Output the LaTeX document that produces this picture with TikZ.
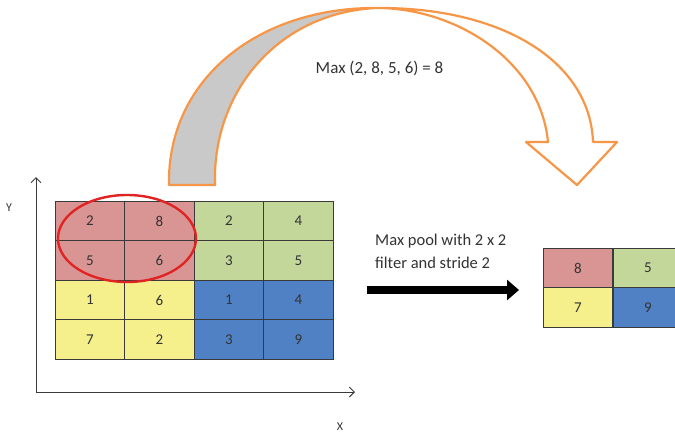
\documentclass[tikz,border=0pt]{standalone}
\usepackage{fontspec}
\setmainfont{Carlito}
\usetikzlibrary{arrows.meta,shapes.geometric}
\definecolor{cred}{HTML}{D99594}
\definecolor{cgreen}{HTML}{C4D79B}
\definecolor{cyellow}{HTML}{F5EF8C}
\definecolor{cblue}{HTML}{4F81C4}
\definecolor{gridc}{HTML}{3A3A3A}
\definecolor{txt}{HTML}{333333}
\definecolor{orng}{HTML}{F79646}
\definecolor{bandgray}{HTML}{C9C9C9}
\definecolor{ringred}{HTML}{E02424}
\begin{document}
\begin{tikzpicture}[x=1pt,y=-1pt,
  cell/.style={draw=gridc,line width=1.3pt,minimum width=69.5pt,minimum height=39.5pt,
    inner sep=0pt,text=txt,font=\fontsize{15}{17}\selectfont},
  axis/.style={draw=gridc,line width=1pt,-{Straight Barb[length=5pt,width=10pt]}},
  lbl/.style={text=txt,inner sep=0pt},
  band/.style={draw=orng,line width=2.2pt,line join=round}]
\useasboundingbox (0,0) rectangle (675,434);
% curved arrow: back (white) part
\draw[band,fill=white] (377,8) .. controls (500,7) and (590,60) .. (593,142)
  -- (617,142) -- (577,185) -- (526,142) -- (548,142)
  .. controls (540,60) and (455,8) .. (377,8) -- cycle;
% front (gray) part
\draw[band,fill=bandgray] (169,185) .. controls (167,78) and (260,7) .. (377,8)
  .. controls (280,12) and (212,90) .. (215,185) -- cycle;
\node[lbl,font=\fontsize{17}{20}\selectfont] (maxt) at (379.5,68) {Max (2, 8, 5, 6) = 8};
% axes
\coordinate (O) at (36,392);
\coordinate (ytop) at (36,177);
\coordinate (xend) at (355,392);
\draw[axis] (O) -- (ytop);
\draw[axis] (O) -- (xend);
\node[lbl,font=\fontsize{12}{14}\selectfont] (ylab) at (9,208) {Y};
\node[lbl,font=\fontsize{12}{14}\selectfont] (xlab) at (340,427) {X};
% input grid
\foreach \r/\y in {1/221,2/260.5,3/300,4/339.5}{
  \foreach \c/\x in {1/90,2/159.5,3/229,4/298.5}{
    \coordinate (p-\r-\c) at (\x,\y);
  }
}
\node[cell,fill=cred] (c-1-1) at (p-1-1) {2};
\node[cell,fill=cred] (c-1-2) at (p-1-2) {8};
\node[cell,fill=cgreen] (c-1-3) at (p-1-3) {2};
\node[cell,fill=cgreen] (c-1-4) at (p-1-4) {4};
\node[cell,fill=cred] (c-2-1) at (p-2-1) {5};
\node[cell,fill=cred] (c-2-2) at (p-2-2) {6};
\node[cell,fill=cgreen] (c-2-3) at (p-2-3) {3};
\node[cell,fill=cgreen] (c-2-4) at (p-2-4) {5};
\node[cell,fill=cyellow] (c-3-1) at (p-3-1) {1};
\node[cell,fill=cyellow] (c-3-2) at (p-3-2) {6};
\node[cell,fill=cblue] (c-3-3) at (p-3-3) {1};
\node[cell,fill=cblue] (c-3-4) at (p-3-4) {4};
\node[cell,fill=cyellow] (c-4-1) at (p-4-1) {7};
\node[cell,fill=cyellow] (c-4-2) at (p-4-2) {2};
\node[cell,fill=cblue] (c-4-3) at (p-4-3) {3};
\node[cell,fill=cblue] (c-4-4) at (p-4-4) {9};
% red ring
\node[ellipse,draw=ringred,line width=2.4pt,minimum width=138pt,minimum height=87pt,inner sep=0pt] (ring) at (127,238.5) {};
% output grid
\node[cell,fill=cred] (o-1-1) at (578,268) {8};
\node[cell,fill=cgreen] (o-1-2) at (648,268) {5};
\node[cell,fill=cyellow] (o-2-1) at (578,307.5) {7};
\node[cell,fill=cblue] (o-2-2) at (648,307.5) {9};
% label and arrow
\node[lbl,anchor=base west,font=\fontsize{16.5}{20}\selectfont] (l1) at (375,245) {Max pool with 2 x 2};
\node[lbl,anchor=base west,font=\fontsize{16.5}{20}\selectfont] (l2) at (375,268) {filter and stride 2};
\coordinate (a1) at (367,290);
\coordinate (a2) at (519,290);
\draw[line width=8pt,-{Triangle[length=12pt,width=20pt]}] (a1) -- (a2);
\end{tikzpicture}
\end{document}
